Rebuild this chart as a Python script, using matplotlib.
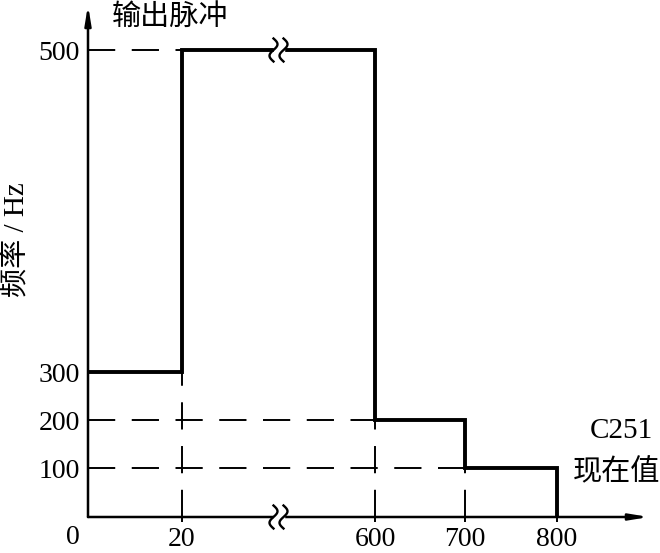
import numpy as np
import matplotlib
matplotlib.use("Agg")
import matplotlib.pyplot as plt
from matplotlib.transforms import IdentityTransform

plt.rcParams['font.family'] = ['Liberation Serif', 'Noto Sans CJK SC', 'DejaVu Sans']

# step data: present value edges and output frequency
edges = [0, 20, 600, 700, 800]
freqs = [300, 500, 200, 100]

x_ticks = [20, 600, 700, 800]
y_ticks = [100, 200, 300, 500]

# piecewise (schematic, non linear) axis scales
x_knots = [-100, 0, 20, 600, 700, 800, 1000]
x_pos = [-470, 0, 94, 287, 377, 469, 653]
y_knots = [-100, 0, 100, 200, 300, 500, 600]
y_pos = [-49, 0, 49, 97, 145, 467, 567]


def fx(v):
    return np.interp(v, x_knots, x_pos)


def fx_inv(v):
    return np.interp(v, x_pos, x_knots)


def fy(v):
    return np.interp(v, y_knots, y_pos)


def fy_inv(v):
    return np.interp(v, y_pos, y_knots)


fig = plt.figure(figsize=(6.6, 5.53), dpi=100)
ax = fig.add_axes([88 / 660, 36 / 553, 561 / 660, 512 / 553])
ax.set_xscale('function', functions=(fx, fx_inv))
ax.set_yscale('function', functions=(fy, fy_inv))
ax.set_xlim(0, 900)
ax.set_ylim(0, 545)
ax.patch.set_visible(False)

for s in ax.spines.values():
    s.set_visible(False)

# axes with arrows
arrow = dict(arrowstyle='-|>,head_length=1.1,head_width=0.18', lw=1.8,
             color='black', shrinkA=0, shrinkB=0)
ax.annotate('', xy=(0, 545), xytext=(0, 0), arrowprops=arrow,
            annotation_clip=False)
ax.annotate('', xy=(900, 0), xytext=(0, 0), arrowprops=arrow,
            annotation_clip=False)

# dashed guide lines
dash = dict(color='black', lw=1.4, linestyle=(0, (14, 8.5)))
ax.plot([0, edges[1]], [freqs[1], freqs[1]], **dash)
ax.plot([0, edges[2]], [freqs[2], freqs[2]], **dash)
ax.plot([0, edges[3]], [freqs[3], freqs[3]], **dash)
ax.plot([edges[1], edges[1]], [0, freqs[0]], **dash)
ax.plot([edges[2], edges[2]], [0, freqs[2]], **dash)
ax.plot([edges[3], edges[3]], [0, freqs[3]], **dash)

# output pulse step line
ax.plot(edges, freqs + [0], drawstyle='steps-post', color='black', lw=2.8,
        solid_joinstyle='miter')

# ticks
ax.set_xticks(x_ticks)
ax.set_xticklabels([str(v) for v in x_ticks])
ax.set_yticks(y_ticks)
ax.set_yticklabels([str(v) for v in y_ticks])
ax.tick_params(axis='x', direction='out', length=3.5, width=1.4, pad=4,
               labelsize=20)
ax.tick_params(axis='y', length=0, pad=6, labelsize=20)
ax.minorticks_off()

# texts
fig.text(73 / 660, 1 - 538 / 553, '0', fontsize=20, ha='center',
         va='center')
fig.text(112 / 660, 1 - 17 / 553, '输出脉冲', fontsize=21, ha='left',
         va='center')
fig.text(17 / 660, 1 - 240 / 553, '频率 / Hz', fontsize=21, rotation=90,
         ha='center', va='center')
fig.text(621 / 660, 1 - 431 / 553, 'C251', fontsize=21, ha='center',
         va='center')
fig.text(616 / 660, 1 - 473 / 553, '现在值', fontsize=21, ha='center',
         va='center')

# break marks halfway between 20 and 600
fig.canvas.draw()
xa = ax.transData.transform((edges[1], 0))[0]
xb = ax.transData.transform((edges[2], 0))[0]
xm = (xa + xb) / 2
for yv in [0, freqs[1]]:
    ym = ax.transData.transform((edges[1], yv))[1]
    ax.fill([xm - 5, xm + 5, xm + 5, xm - 5],
            [ym - 4, ym - 4, ym + 4, ym + 4], color='white',
            transform=IdentityTransform(), clip_on=False, zorder=5)
    t = np.linspace(-1, 1, 40)
    for dx in [-5, 5]:
        ax.plot(xm + dx + 4 * np.sin(np.pi * t), ym + 11.5 * t,
                color='black', lw=1.7, transform=IdentityTransform(),
                clip_on=False, zorder=6)

fig.savefig('out.png', dpi=100)
